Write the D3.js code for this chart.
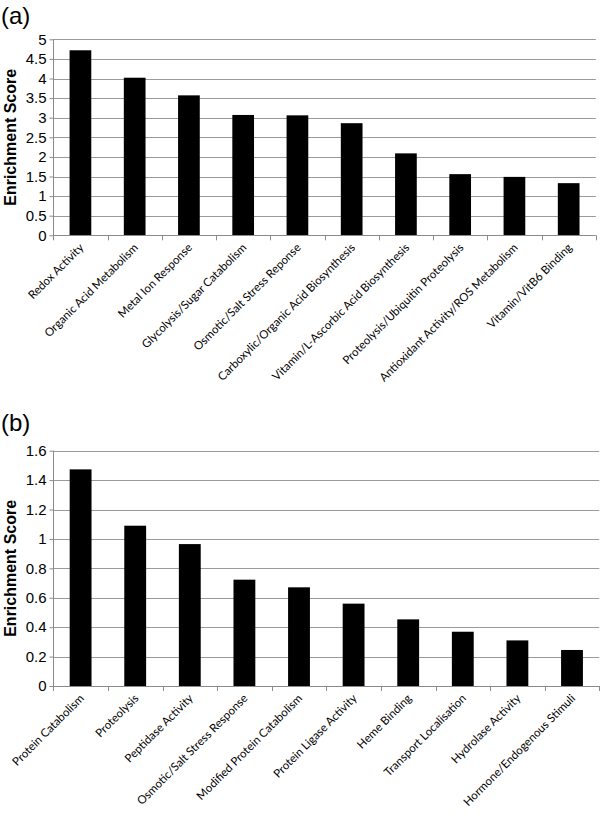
<!DOCTYPE html>
<html><head><meta charset="utf-8">
<script src="https://cdn.jsdelivr.net/npm/d3@7"></script>
<style>body{margin:0;background:#fff}svg{display:block}</style>
</head><body><svg id="c" width="600" height="817"></svg>
<script>
const categoriesA = ["Redox Activity","Organic Acid Metabolism","Metal Ion Response","Glycolysis/Sugar Catabolism","Osmotic/Salt Stress Reponse","Carboxylic/Organic Acid Biosynthesis","Vitamin/L-Ascorbic Acid Biosynthesis","Proteolysis/Ubiquitin Proteolysis","Antioxidant Activity/ROS Metabolism","Vitamin/VitB6 Binding"];
const valuesA = [4.72,4.02,3.57,3.07,3.06,2.86,2.09,1.56,1.49,1.33];
const ticksA = [0,0.5,1,1.5,2,2.5,3,3.5,4,4.5,5];
const categoriesB = ["Protein Catabolism","Proteolysis","Peptidase Activity","Osmotic/Salt Stress Response","Modified Protein Catabolism","Protein Ligase Activity","Heme Binding","Transport Localisation","Hydrolase Activity","Hormone/Endogenous Stimuli"];
const valuesB = [1.473,1.09,0.965,0.723,0.671,0.56,0.453,0.369,0.31,0.245];
const ticksB = [0,0.2,0.4,0.6,0.8,1,1.2,1.4,1.6];

const svg = d3.select("#c");

function panel(opt){
  const {cats, vals, ticks, top, bottom, left, right, label, labelY, fmt} = opt;
  const g = svg.append("g");
  const x = d3.scaleBand().domain(cats).range([left,right]).paddingInner(0).paddingOuter(0);
  const y = d3.scaleLinear().domain([0, ticks[ticks.length-1]]).range([bottom, top]);
  // gridlines
  g.selectAll("line.grid").data(ticks.slice(1)).join("line")
    .attr("x1", left).attr("x2", right)
    .attr("y1", d=>Math.round(y(d))+0.5).attr("y2", d=>Math.round(y(d))+0.5)
    .attr("stroke","#9a9a9a").attr("stroke-width",1);
  // bars
  const bw = x.bandwidth()/2.5;
  g.selectAll("rect").data(vals).join("rect")
    .attr("x",(d,i)=>x(cats[i])+x.bandwidth()/2-bw/2)
    .attr("width",bw)
    .attr("y",d=>y(d)).attr("height",d=>bottom-y(d))
    .attr("fill","#000");
  // y axis
  const ya = d3.axisLeft(y).tickValues(ticks).tickSize(4).tickFormat(fmt);
  const yg = g.append("g").attr("transform",`translate(${Math.round(left)+0.5},0)`).call(ya);
  yg.select(".domain").attr("stroke","#8a8a8a").attr("d",`M0,${top}V${bottom}`);
  yg.selectAll(".tick line").attr("stroke","#8a8a8a");
  yg.selectAll(".tick text").attr("font-family","Liberation Sans, Arial, sans-serif").attr("font-size",15).attr("fill","#000").attr("x",-7);
  // x axis
  const xa = d3.axisBottom(x).tickSize(0).tickFormat("");
  const xg = g.append("g").attr("transform",`translate(0,${Math.round(bottom)+0.5})`).call(xa);
  xg.select(".domain").attr("stroke","#8a8a8a").attr("d",`M${left},0H${right}`);
  xg.selectAll(".tick").remove();
  const bounds = cats.map(c=>x(c)).concat([right]);
  g.selectAll("line.xt").data(bounds).join("line")
    .attr("x1",d=>Math.round(d)+0.5).attr("x2",d=>Math.round(d)+0.5)
    .attr("y1",bottom).attr("y2",bottom+5).attr("stroke","#8a8a8a");
  // x labels
  g.selectAll("text.xl").data(cats).join("text")
    .attr("transform",d=>`translate(${x(d)+x.bandwidth()/2+4},${bottom+13}) rotate(-45)`)
    .attr("text-anchor","end")
    .attr("font-family","Lato, 'Open Sans', sans-serif")
    .attr("font-size",11.5)
    .attr("fill","#000")
    .text(d=>d);
  // y title
  g.append("text")
    .attr("transform",`translate(16,${(top+bottom)/2}) rotate(-90)`)
    .attr("text-anchor","middle")
    .attr("font-family","Liberation Sans, Arial, sans-serif")
    .attr("font-weight","bold").attr("font-size",16)
    .text("Enrichment Score");
  // panel label
  svg.append("text").attr("x",1).attr("y",labelY)
    .attr("font-family","Liberation Sans, Arial, sans-serif").attr("font-size",24)
    .text(label);
}

panel({cats:categoriesA, vals:valuesA, ticks:ticksA, top:39.3, bottom:235.3, left:53.3, right:595.8, label:"(a)", labelY:24, fmt:d3.format("")});
panel({cats:categoriesB, vals:valuesB, ticks:ticksB, top:450.7, bottom:686, left:53.3, right:599.3, label:"(b)", labelY:431, fmt:d=>d3.format("")(+d.toFixed(1))});
</script></body></html>
